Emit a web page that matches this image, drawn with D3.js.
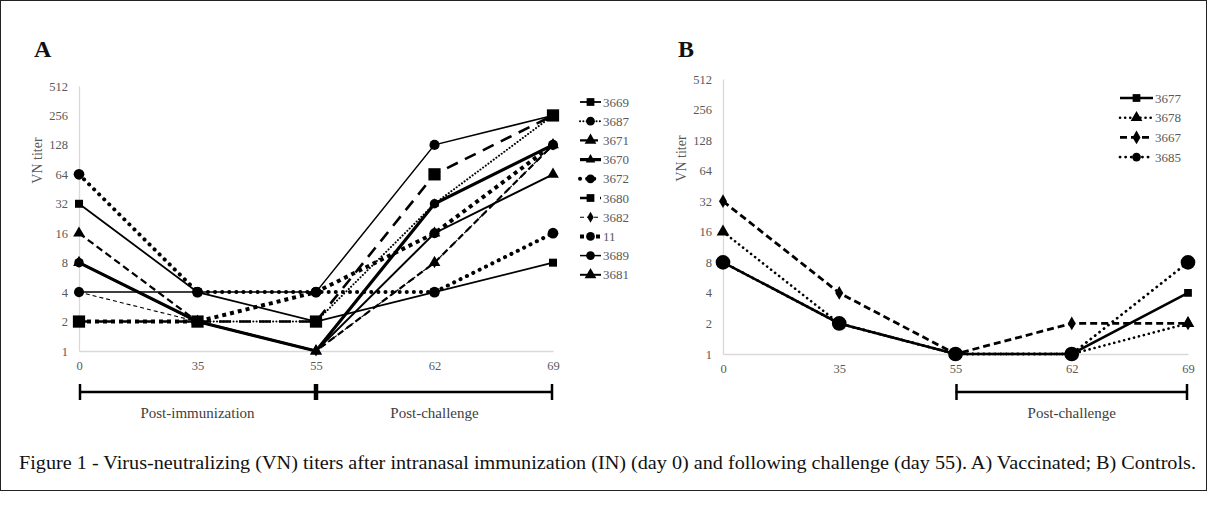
<!DOCTYPE html>
<html>
<head>
<meta charset="utf-8">
<script src="https://cdn.jsdelivr.net/npm/d3@7"></script>
<style>
  body { margin: 0; background: #fff; }
  svg text { font-family: "Liberation Serif", "DejaVu Serif", serif; }
</style>
</head>
<body>
<script>
// days of sampling and titer ticks
var days = ["0", "35", "55", "62", "69"];
var titerTicks = [1, 2, 4, 8, 16, 32, 64, 128, 256, 512];

// panel A - vaccinated
var namesA = ["3669", "3687", "3671", "3670", "3672", "3680", "3682", "11", "3689", "3681"];
var v3669 = [32, 4, 2, 4, 8];
var v3687 = [8, 2, 2, 32, 256];
var v3671 = [16, 2, 1, 8, 128];
var v3670 = [8, 2, 1, 32, 128];
var v3672 = [64, 4, 4, 4, 16];
var v3680 = [2, 2, 2, 64, 256];
var v3682 = [4, 2, 1, 8, 128];
var v11 = [2, 2, 4, 16, 128];
var v3689 = [4, 4, 4, 128, 256];
var v3681 = [8, 2, 1, 16, 64];

// panel B - controls
var namesB = ["3677", "3678", "3667", "3685"];
var v3677 = [8, 2, 1, 1, 4];
var v3678 = [16, 2, 1, 1, 2];
var v3667 = [32, 4, 1, 2, 2];
var v3685 = [8, 2, 1, 1, 8];

// styles per series (line look + marker)
var styleA = [
  {w: 1.8, dash: null, cap: "butt", sym: "square", size: 64},
  {w: 2, dash: "0.1 3.2", cap: "round", sym: "circle", size: 70},
  {w: 2.2, dash: "7 4", cap: "butt", sym: "triangle", size: 60},
  {w: 3.2, dash: null, cap: "butt", sym: "triangle", size: 40},
  {w: 4, dash: "0.1 7", cap: "round", sym: "circle", size: 90},
  {w: 2.6, dash: "12 8", cap: "butt", sym: "square", size: 150},
  {w: 1.1, dash: "4 3", cap: "butt", sym: "diamond", size: 35},
  {w: 4, dash: "4 4", cap: "butt", sym: "circle", size: 80},
  {w: 1.5, dash: null, cap: "butt", sym: "circle", size: 80},
  {w: 2, dash: null, cap: "butt", sym: "triangle", size: 60}
];
var styleB = [
  {w: 2.6, dash: null, cap: "butt", sym: "square", size: 60},
  {w: 2.6, dash: "0.1 5", cap: "round", sym: "triangle", size: 70},
  {w: 2.8, dash: "7 4", cap: "butt", sym: "diamond", size: 55},
  {w: 2.8, dash: "0.1 5.5", cap: "round", sym: "circle", size: 170}
];

var symMap = {square: d3.symbolSquare, circle: d3.symbolCircle, triangle: d3.symbolTriangle, diamond: d3.symbolDiamond};
var grey = "#595959";

var svg = d3.select("body").append("svg")
  .attr("width", 1208).attr("height", 509);

svg.append("rect")
  .attr("x", 0.5).attr("y", 0.5).attr("width", 1206).attr("height", 490)
  .attr("fill", "none").attr("stroke", "#222").attr("stroke-width", 1);

function panel(opt) {
  var x = d3.scalePoint().domain(days).range([opt.x0, opt.x1]);
  var y = d3.scaleLog().base(2).domain([1, 512]).range([opt.y0, opt.y1]);
  var g = svg.append("g");

  var yAxis = d3.axisLeft(y).tickValues(titerTicks).tickSize(0).tickPadding(11).tickFormat(d3.format("d"));
  var ya = g.append("g").attr("transform", "translate(" + opt.x0 + ",0)").call(yAxis);
  var xAxis = d3.axisBottom(x).tickSize(0).tickPadding(10);
  var xa = g.append("g").attr("transform", "translate(0," + opt.y0 + ")").call(xAxis);
  [ya, xa].forEach(function (a) {
    a.select(".domain").attr("stroke", "#d9d9d9").attr("stroke-width", 1.3);
    a.selectAll("text").attr("fill", grey).style("font-size", "12.5px");
  });

  g.append("text")
    .attr("transform", "translate(" + (opt.x0 - 37) + "," + ((opt.y0 + opt.y1) / 2 - 58) + ") rotate(-90)")
    .attr("text-anchor", "middle").attr("fill", grey).style("font-size", "14px")
    .text("VN titer");

  g.append("text").attr("x", opt.lx).attr("y", 57)
    .style("font-size", "24px").style("font-weight", "bold").attr("fill", "#111")
    .text(opt.letter);

  var line = d3.line().x(function (d, i) { return x(days[i]); }).y(function (d) { return y(d); });

  opt.series.forEach(function (vals, k) {
    var s = opt.styles[k];
    g.append("path").datum(vals)
      .attr("d", line).attr("fill", "none").attr("stroke", "#000")
      .attr("stroke-width", s.w).attr("stroke-dasharray", s.dash)
      .attr("stroke-linecap", s.cap);
  });
  opt.series.forEach(function (vals, k) {
    var s = opt.styles[k];
    g.selectAll(null).data(vals).enter().append("path")
      .attr("transform", function (d, i) { return "translate(" + x(days[i]) + "," + y(d) + ")"; })
      .attr("d", d3.symbol().type(symMap[s.sym]).size(s.size)).attr("fill", "#000");
  });

  // legend
  opt.names.forEach(function (n, k) {
    var s = opt.styles[k];
    var ly = opt.legY + k * opt.legStep;
    g.append("line").attr("x1", opt.legX).attr("x2", opt.legX + opt.legW).attr("y1", ly).attr("y2", ly)
      .attr("stroke", "#000").attr("stroke-width", s.w).attr("stroke-dasharray", s.dash).attr("stroke-linecap", s.cap);
    g.append("path").attr("transform", "translate(" + (opt.legX + opt.legW / 2) + "," + ly + ")")
      .attr("d", d3.symbol().type(symMap[s.sym]).size(Math.min(s.size, 60))).attr("fill", "#000");
    g.append("text").attr("x", opt.legX + opt.legW + 2).attr("y", ly + 4.5)
      .attr("fill", grey).style("font-size", "13px").text(n);
  });

  // brackets under the axis
  opt.brackets.forEach(function (b) {
    var bx0 = x(b.from), bx1 = x(b.to);
    g.append("line").attr("x1", bx0).attr("x2", bx1).attr("y1", 392).attr("y2", 392)
      .attr("stroke", "#000").attr("stroke-width", 2.5);
    [bx0, bx1].forEach(function (bx, j) {
      g.append("line").attr("x1", bx + (j ? -1 : 1) * 1).attr("x2", bx + (j ? -1 : 1) * 1)
        .attr("y1", 384).attr("y2", 400).attr("stroke", "#000").attr("stroke-width", 2.5);
    });
    g.append("text").attr("x", (bx0 + bx1) / 2).attr("y", 418).attr("text-anchor", "middle")
      .attr("fill", "#404040").style("font-size", "15px").text(b.label);
  });
}

panel({
  x0: 79, x1: 553, y0: 351, y1: 86, lx: 34, letter: "A",
  series: [v3669, v3687, v3671, v3670, v3672, v3680, v3682, v11, v3689, v3681],
  styles: styleA, names: namesA,
  legX: 580, legW: 21, legY: 102, legStep: 19.2,
  brackets: [{from: "0", to: "55", label: "Post-immunization"}, {from: "55", to: "69", label: "Post-challenge"}]
});

panel({
  x0: 723, x1: 1188, y0: 354, y1: 79, lx: 678, letter: "B",
  series: [v3677, v3678, v3667, v3685],
  styles: styleB, names: namesB,
  legX: 1120, legW: 33, legY: 98, legStep: 19.7,
  brackets: [{from: "55", to: "69", label: "Post-challenge"}]
});

svg.append("text").attr("x", 19).attr("y", 469)
  .attr("textLength", 1177).attr("lengthAdjust", "spacingAndGlyphs")
  .style("font-size", "18px").attr("fill", "#111")
  .text("Figure 1 - Virus-neutralizing (VN) titers after intranasal immunization (IN) (day 0) and following challenge (day 55). A) Vaccinated; B) Controls.");
</script>
</body>
</html>
